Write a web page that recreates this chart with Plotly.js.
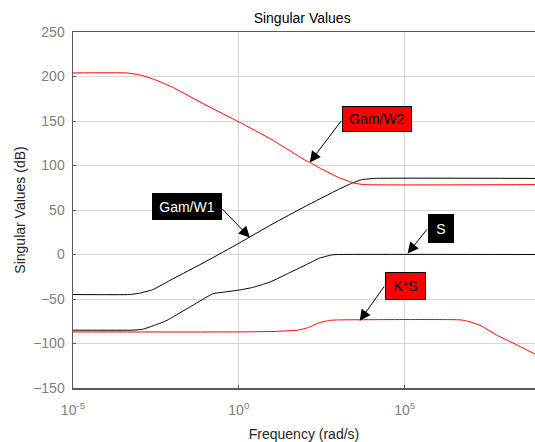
<!DOCTYPE html>
<html>
<head>
<meta charset="utf-8">
<script src="https://cdn.plot.ly/plotly-3.0.1.min.js"></script>
<style>
html,body{margin:0;padding:0;background:#fff;}
#chart{width:535px;height:442px;}
</style>
</head>
<body>
<div id="chart"></div>
<script>
// Frequency (rad/s) and singular values (dB)
const gamW2Freq = [1e-5, 4.0e-4, 1e-3, 3.16e-3, 1e-2, 1e-1, 1, 10, 100, 138, 316, 1000, 3162, 6310, 8.5e8];
const gamW2Db   = [204, 204, 202, 196, 188, 168, 149, 129, 106, 103.5, 96, 86.6, 80, 78.5, 78.5];

const gamW1Freq = [1e-5, 5.0e-4, 1e-3, 2.5e-3, 1e-2, 1e-1, 1, 10, 100, 1000, 2512, 5012, 12589, 8.5e8];
const gamW1Db   = [-45, -45, -43.5, -39.6, -27.6, -8, 12.6, 34, 54, 73, 80, 84, 85.5, 85.5];

const sFreq = [1e-5, 6.3e-4, 1.26e-3, 3.16e-3, 6.8e-3, 2.7e-2, 0.1, 0.166, 0.4, 1, 2.63, 6.0, 10, 31.6, 100, 275, 631, 1000, 8.5e8];
const sDb   = [-85, -85, -84, -79, -74, -61, -48.5, -44, -42, -40, -37, -33, -30, -21, -12, -4, -0.5, 0, 0];

const ksFreq = [1e-5, 1, 10, 60, 126, 250, 550, 1000, 5e6, 1e7, 2e7, 6.3e7, 2e8, 8.5e8];
const ksDb   = [-87, -87, -86.5, -85, -82, -77, -74, -73.5, -73.5, -76, -80, -91, -100, -112];

const xTickVals = [1e-5, 1, 1e5];
const xTickText = ['10<sup>-5</sup>', '10<sup>0</sup>', '10<sup>5</sup>'];
const yTickVals = [-150, -100, -50, 0, 50, 100, 150, 200, 250];

const FONT = 'Liberation Sans, Arial, Helvetica, sans-serif';

const traces = [
  {x: gamW1Freq, y: gamW1Db, mode: 'lines', line: {color: '#000000', width: 1, shape: 'spline', smoothing: 0.4}, name: 'Gam/W1'},
  {x: sFreq, y: sDb, mode: 'lines', line: {color: '#000000', width: 1, shape: 'spline', smoothing: 0.4}, name: 'S'},
  {x: gamW2Freq, y: gamW2Db, mode: 'lines', line: {color: '#ff0000', width: 1, shape: 'spline', smoothing: 0.4}, name: 'Gam/W2'},
  {x: ksFreq, y: ksDb, mode: 'lines', line: {color: '#ff0000', width: 1, shape: 'spline', smoothing: 0.4}, name: 'K*S'}
];

function box(text, x, y, w, h, bg, fg) {
  return {text: text, x: x, y: y, xref: 'x', yref: 'y', showarrow: false,
    xanchor: 'center', yanchor: 'middle', width: w, height: h, borderpad: 0,
    bgcolor: bg, bordercolor: '#000000', borderwidth: 1,
    font: {family: FONT, size: 14, color: fg}};
}
function arrow(hx, hy, tx, ty) {
  return {text: ' ', font: {size: 1}, x: hx, y: hy, ax: tx, ay: ty, xref: 'x', yref: 'y', axref: 'x', ayref: 'y',
    showarrow: true, arrowhead: 2, arrowsize: 2.2, arrowwidth: 1, arrowcolor: '#000000', standoff: 0, borderpad: 0};
}

const annotations = [
  arrow(2.139, 103.5, 3.102, 150.8),
  arrow(0.331, 19.0, -0.512, 51.7),
  arrow(5.090, 1.0, 5.693, 29.2),
  arrow(3.645, -74.5, 4.398, -35.1),
  box('Gam/W2', 4.157, 152.5, 68, 24, '#ff0000', '#000000'),
  box('Gam/W1', -1.566, 53.4, 68, 25, '#000000', '#ffffff'),
  box('S', 6.084, 29.7, 24, 27, '#000000', '#ffffff'),
  box('K*S', 5.015, -35.1, 39, 26, '#ff0000', '#000000')
];

const layout = {
  width: 535, height: 442,
  margin: {l: 73, r: 0, t: 32, b: 54, pad: 0},
  paper_bgcolor: '#ffffff', plot_bgcolor: '#ffffff',
  showlegend: false,
  font: {family: FONT, size: 14, color: '#262626'},
  title: {text: 'Singular Values', font: {family: FONT, size: 14, color: '#000000'},
    x: 0.496, xref: 'paper', xanchor: 'center', y: 1 - 18 / 442, yref: 'container', yanchor: 'middle'},
  xaxis: {
    type: 'log', range: [-5, 8.93], autorange: false,
    tickmode: 'array', tickvals: xTickVals, ticktext: xTickText,
    showgrid: true, gridcolor: '#d6d6d6', gridwidth: 1,
    showline: true, linecolor: '#5a5a5a', linewidth: 1.5, mirror: true,
    ticks: 'inside', ticklen: 3, tickcolor: '#5a5a5a',
    tickfont: {family: FONT, size: 14, color: '#808080'},
    ticklabelstandoff: 9,
    zeroline: false,
    title: {text: 'Frequency (rad/s)', font: {family: FONT, size: 14, color: '#262626'}, standoff: 12}
  },
  yaxis: {
    range: [-150, 250], autorange: false,
    tickmode: 'array', tickvals: yTickVals,
    showgrid: true, gridcolor: '#d6d6d6', gridwidth: 1,
    showline: true, linecolor: '#5a5a5a', linewidth: 1.5, mirror: true,
    ticks: 'inside', ticklen: 3, tickcolor: '#5a5a5a',
    tickfont: {family: FONT, size: 14, color: '#808080'},
    ticklabelstandoff: 4,
    zeroline: false,
    title: {text: 'Singular Values (dB)', font: {family: FONT, size: 14, color: '#262626'}, standoff: 4}
  },
  annotations: annotations
};

Plotly.newPlot('chart', traces, layout, {staticPlot: true, displayModeBar: false});
</script>
</body>
</html>
